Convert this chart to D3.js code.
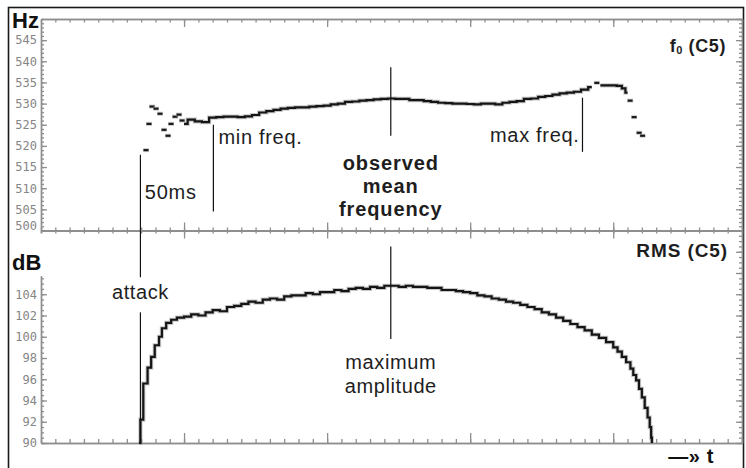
<!DOCTYPE html>
<html><head><meta charset="utf-8">
<script src="https://cdn.jsdelivr.net/npm/d3@7/dist/d3.min.js"></script>
<style>
html,body{margin:0;padding:0;background:#fff;}
svg{display:block;font-family:"Liberation Sans",Arial,Helvetica,sans-serif;}
</style></head><body>
<svg id="c" width="746" height="468"></svg>
<script>
// ---------------- data ----------------
const timeDomain = [0, 490];          // ms
const hzDomain = [500, 550];
const dbDomain = [90, 110];
const hzTickLabels = [500, 505, 510, 515, 520, 525, 530, 535, 540, 545];
const dbTickLabels = [90, 92, 94, 96, 98, 100, 102, 104];

// f0 (C5): scattered onset estimates
const f0OnsetTime = [73.4, 75.5, 77.6, 80.4, 83.2, 86.0, 88.8, 90.9, 93.7, 96.5, 98.6];
const f0OnsetHz   = [519.0, 525.2, 529.3, 528.8, 527.6, 523.8, 522.4, 525.2, 526.9, 527.4, 526.0];
// f0 (C5): continuous contour
const f0Time = [100,105,110,115,120,125,130,135,140,145,150,155,160,165,170,175,180,185,190,195,
                200,205,210,215,220,225,230,235,240,245,250,255,260,265,270,275,280,285,290,295,
                300,305,310,315,320,325,330,335,340,345,350,355,360,365,370,375,380,385];
const f0Hz = [525.2,526.2,525.8,525.6,526.7,526.8,526.9,526.9,526.8,527.0,527.3,527.9,528.2,528.5,528.8,529.0,529.1,529.1,529.3,529.4,
              529.5,529.8,530.0,530.4,530.5,530.7,530.8,531.0,531.1,531.2,531.1,531.1,530.8,530.8,530.6,530.4,530.2,530.1,530.0,530.0,
              529.9,529.8,530.0,530.0,529.8,530.2,530.4,530.6,531.1,531.2,531.6,531.8,532.1,532.4,532.6,532.8,533.3,533.9];
// f0 (C5): release plateau
const f0TailTime = [391, 395, 400, 405, 407, 410];
const f0TailHz   = [534.3, 534.3, 534.3, 534.2, 533.6, 532.6];
// f0 (C5): scattered offset estimates
const f0OffsetTime = [388.5, 411.8, 414.6, 418.1, 420.5];
const f0OffsetHz   = [534.9, 530.7, 526.8, 523.1, 522.4];

// RMS (C5)
const rmsTime = [68.5,69.5,71.5,74.5,77,79.5,82.5,84.5,87.5,91,95,
                 100,105,110,115,120,125,130,135,140,145,150,155,160,165,170,175,180,185,190,195,
                 200,205,210,215,220,225,230,235,240,245,250,255,260,265,270,275,280,285,290,295,
                 300,305,310,315,320,325,330,335,340,345,350,355,360,365,370,375,380,385,390,395,400,
                 403,406,409,412,414,416,418,420,422,424,425.5,426.5,427];
const rmsDb = [90.0,92.2,95.6,97.1,98.1,99.2,100.0,100.8,101.3,101.6,101.8,
               101.9,102.1,102.0,102.3,102.5,102.4,102.8,102.9,103.1,103.3,103.2,103.5,103.6,103.5,103.8,103.9,103.9,104.1,104.0,104.2,
               104.2,104.4,104.3,104.5,104.6,104.5,104.7,104.6,104.8,104.8,104.7,104.8,104.7,104.7,104.6,104.6,104.4,104.4,104.3,104.2,
               104.1,103.9,103.8,103.6,103.5,103.3,103.2,103.0,102.8,102.6,102.3,102.1,101.8,101.5,101.2,100.9,100.6,100.2,99.9,99.5,99.0,
               98.6,98.1,97.6,97.0,96.4,95.9,95.1,94.3,93.3,92.4,91.5,90.5,90.0];

// annotation markers (time in ms, extent in data units)
const hzMarkers = [ // [time, fromHz, toHz]
  [69.5, 517.9, 500], [120.5, 525.0, 504.5], [244.5, 538.6, 522.4], [378.5, 531.4, 518.6]
];
const dbMarkers = [ // [time, fromDb, toDb]
  [69.5, 110, 105.6], [69.5, 102.3, 90], [244.5, 108.5, 99.8]
];

// ---------------- drawing ----------------
const svg = d3.select("#c");
const x = d3.scaleLinear().domain(timeDomain).range([41, 742]);
const yHz = d3.scaleLinear().domain(hzDomain).range([230.5, 19]);
const yDb = d3.scaleLinear().domain(dbDomain).range([443, 230.5]);
const AX = "#8e8e8e";

function styleAxis(g){
  g.selectAll("path.domain").attr("stroke", AX).attr("stroke-width", 1.4);
  g.selectAll(".tick line").attr("stroke", AX).attr("stroke-width", 1.3);
  g.selectAll(".tick text").attr("fill", "#858585")
    .attr("font-family", "'DejaVu Sans Mono', monospace").attr("font-size", 12);
  return g;
}
const minorT = d3.range(0, 491, 10);
const majorT = [100, 200, 300, 400];
const hzMinor = d3.range(500, 551, 1);
const dbMinor = d3.range(90, 110.01, 0.5);

// outer frame
svg.append("rect").attr("x", 8.5).attr("y", 7.5).attr("width", 735).attr("height", 480)
  .attr("fill", "none").attr("stroke", "#1a1a1a").attr("stroke-width", 1.6);

// ---- top panel axes
styleAxis(svg.append("g").attr("transform", `translate(0,${yHz(550)})`)
  .call(d3.axisTop(x).tickValues(minorT).tickSizeInner(-3.5).tickSizeOuter(0).tickFormat("")));
styleAxis(svg.append("g").attr("transform", `translate(0,${yHz(550)})`)
  .call(d3.axisTop(x).tickValues(majorT).tickSizeInner(-8).tickSizeOuter(0).tickFormat("")));
styleAxis(svg.append("g").attr("transform", `translate(${x(0)},0)`)
  .call(d3.axisLeft(yHz).tickValues(hzMinor).tickSizeInner(-3).tickSizeOuter(0).tickFormat("")));
const hzAx = styleAxis(svg.append("g").attr("transform", `translate(${x(0)},0)`)
  .call(d3.axisLeft(yHz).tickValues(hzTickLabels).tickSizeInner(-6).tickSizeOuter(0).tickPadding(4)));
hzAx.selectAll(".tick text").filter(d => d === 500).attr("dy", "-0.1em");
styleAxis(svg.append("g").attr("transform", `translate(${x(490)},0)`)
  .call(d3.axisRight(yHz).tickValues(hzMinor).tickSizeInner(-3).tickSizeOuter(0).tickFormat("")));
styleAxis(svg.append("g").attr("transform", `translate(${x(490)},0)`)
  .call(d3.axisRight(yHz).tickValues(hzTickLabels.concat([550])).tickSizeInner(-6).tickSizeOuter(0).tickFormat("")));

// ---- separator (ticks both sides)
const sepY = yHz(500);
styleAxis(svg.append("g").attr("transform", `translate(0,${sepY})`)
  .call(d3.axisTop(x).tickValues(minorT).tickSizeInner(3).tickSizeOuter(0).tickFormat("")));
styleAxis(svg.append("g").attr("transform", `translate(0,${sepY})`)
  .call(d3.axisBottom(x).tickValues(minorT).tickSizeInner(3).tickSizeOuter(0).tickFormat("")));
styleAxis(svg.append("g").attr("transform", `translate(0,${sepY})`)
  .call(d3.axisTop(x).tickValues(majorT).tickSizeInner(8).tickSizeOuter(0).tickFormat("")));
styleAxis(svg.append("g").attr("transform", `translate(0,${sepY})`)
  .call(d3.axisBottom(x).tickValues(majorT).tickSizeInner(8).tickSizeOuter(0).tickFormat("")));

// ---- bottom panel axes
styleAxis(svg.append("g").attr("transform", `translate(0,${yDb(90)})`)
  .call(d3.axisBottom(x).tickValues(minorT).tickSizeInner(-4).tickSizeOuter(0).tickFormat("")));
styleAxis(svg.append("g").attr("transform", `translate(0,${yDb(90)})`)
  .call(d3.axisBottom(x).tickValues(majorT).tickSizeInner(-10).tickSizeOuter(0).tickFormat("")));
styleAxis(svg.append("g").attr("transform", `translate(${x(0)},0)`)
  .call(d3.axisLeft(yDb).tickValues(dbMinor).tickSizeInner(-3).tickSizeOuter(0).tickFormat("")));
styleAxis(svg.append("g").attr("transform", `translate(${x(0)},0)`)
  .call(d3.axisLeft(yDb).tickValues(dbTickLabels).tickSizeInner(-6).tickSizeOuter(0).tickPadding(4)));
styleAxis(svg.append("g").attr("transform", `translate(${x(490)},0)`)
  .call(d3.axisRight(yDb).tickValues(dbMinor).tickSizeInner(-3).tickSizeOuter(0).tickFormat("")));
styleAxis(svg.append("g").attr("transform", `translate(${x(490)},0)`)
  .call(d3.axisRight(yDb).tickValues(d3.range(90, 110.01, 2)).tickSizeInner(-6).tickSizeOuter(0).tickFormat("")));

// white box behind the dB unit label (hides top of left axis)
svg.append("rect").attr("x", 10).attr("y", yDb(110) + 3).attr("width", 36).attr("height", yDb(105.7) - yDb(110) - 3)
  .attr("fill", "#fff");

// ---------------- data marks ----------------
function drawPath(d, curve){
  const line = d3.line().x(p => x(p[0])).y(p => p[2] ? yDb(p[1]) : yHz(p[1])).curve(curve);
  svg.append("path").attr("d", line(d)).attr("fill", "none")
    .attr("stroke", "#9a9a9a").attr("stroke-width", 4.2).attr("stroke-opacity", 0.55).attr("stroke-linejoin", "miter");
  svg.append("path").attr("d", line(d)).attr("fill", "none")
    .attr("stroke", "#151515").attr("stroke-width", 2.2).attr("stroke-linejoin", "miter");
}
drawPath(f0Time.map((t, i) => [t, f0Hz[i], false]), d3.curveStep);
drawPath(f0TailTime.map((t, i) => [t, f0TailHz[i], false]), d3.curveStep);
drawPath(rmsTime.map((t, i) => [t, rmsDb[i], true]), d3.curveStepAfter);

function drawDashes(ts, vs){
  const g = svg.append("g");
  ts.forEach((t, i) => {
    g.append("line").attr("x1", x(t) - 3).attr("x2", x(t) + 3).attr("y1", yHz(vs[i])).attr("y2", yHz(vs[i]))
      .attr("stroke", "#9a9a9a").attr("stroke-width", 4).attr("stroke-opacity", 0.5);
    g.append("line").attr("x1", x(t) - 2.5).attr("x2", x(t) + 2.5).attr("y1", yHz(vs[i])).attr("y2", yHz(vs[i]))
      .attr("stroke", "#1a1a1a").attr("stroke-width", 2.2);
  });
}
drawDashes(f0OnsetTime, f0OnsetHz);
drawDashes(f0OffsetTime, f0OffsetHz);

// marker lines
hzMarkers.forEach(m => svg.append("line").attr("x1", x(m[0])).attr("x2", x(m[0]))
  .attr("y1", yHz(m[1])).attr("y2", yHz(m[2])).attr("stroke", "#111").attr("stroke-width", 1.2));
dbMarkers.forEach(m => svg.append("line").attr("x1", x(m[0])).attr("x2", x(m[0]))
  .attr("y1", yDb(m[1])).attr("y2", yDb(m[2])).attr("stroke", "#111").attr("stroke-width", 1.2));

// ---------------- text ----------------
function txt(s, px, py, o){
  o = o || {};
  return svg.append("text").attr("x", px).attr("y", py).text(s)
    .attr("font-size", o.size || 20).attr("font-weight", o.bold ? "bold" : "normal")
    .attr("text-anchor", o.anchor || "start").attr("letter-spacing", o.ls == null ? 0.6 : o.ls)
    .attr("fill", o.fill || "#1e1e1e");
}
txt("Hz", 12, 28, {size: 22, bold: true, ls: 0, fill: "#111"});
txt("dB", 12, 270, {size: 22, bold: true, ls: 0, fill: "#111"});
const f0t = svg.append("text").attr("x", 726).attr("y", yHz(542.2)).attr("text-anchor", "end")
  .attr("font-size", 18).attr("font-weight", "bold").attr("fill", "#1e1e1e").attr("letter-spacing", 0.6);
f0t.append("tspan").text("f");
f0t.append("tspan").text("0").attr("font-size", 11).attr("dy", 2);
f0t.append("tspan").text(" (C5)").attr("dy", -2);
txt("RMS (C5)", 728, yDb(107.5), {size: 19, bold: true, anchor: "end", ls: 0.9});
txt("—» t", 714, 463, {size: 20, bold: true, anchor: "end", ls: 0.6, fill: "#111"});

txt("50ms", x(72.5), yHz(507.4), {ls: 0.8});
txt("min freq.", x(124), yHz(520.4), {ls: 0.7});
txt("max freq.", x(376.5), yHz(521.0), {anchor: "end", ls: 0.7});
[["observed", 514.3], ["mean", 508.8], ["frequency", 503.4]].forEach(d =>
  txt(d[0], x(244.5), yHz(d[1]), {bold: true, anchor: "middle", ls: 0.9}));
txt("attack", x(69.5), yDb(103.6), {anchor: "middle", ls: 0.6});
txt("maximum", x(244.5), yDb(97.0), {anchor: "middle", ls: 0.6});
txt("amplitude", x(244.5), yDb(94.7), {anchor: "middle", ls: 0.6});
</script>
</body></html>
